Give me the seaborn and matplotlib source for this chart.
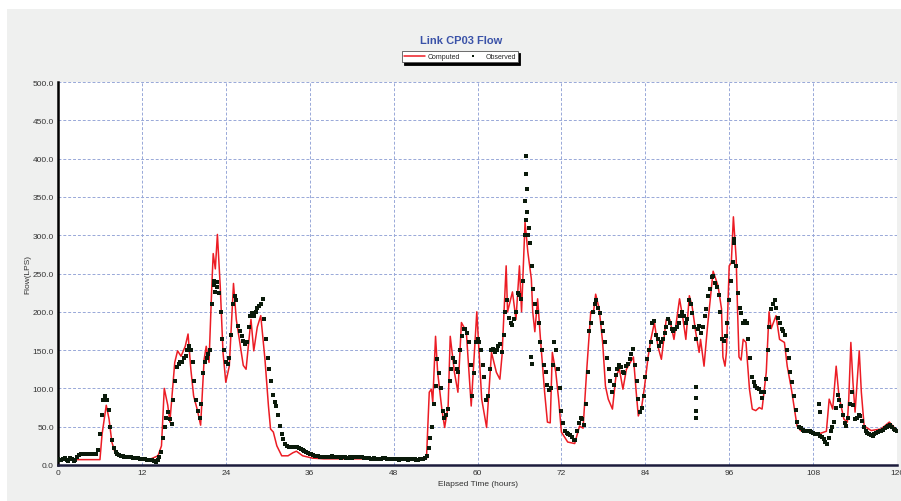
import numpy as np
import pandas as pd
import matplotlib
matplotlib.use("Agg")
import matplotlib.pyplot as plt
import seaborn as sns

# ---------------- data ----------------
# Computed flow: breakpoints (hours, LPS)
comp_t = [0, 6.0, 6.3, 6.9, 7.3, 7.7, 8.2, 9, 10, 12, 13.3, 14.3, 14.8, 15.2, 15.7, 16.0,
          16.3, 16.7, 17.1, 17.6, 18.2, 18.6, 19.0, 19.4, 19.9, 20.4, 20.9, 21.2, 21.6,
          22.0, 22.2, 22.5, 22.8, 23.2, 23.6, 24.0, 24.5, 25.1, 25.5, 26.0, 26.5, 26.9,
          27.6, 28.0, 28.5, 29.0, 29.6, 30.1, 30.4, 30.8, 31.3, 32.0, 32.9, 33.6, 34.1,
          35.0, 36.4, 38, 42, 46, 50, 52.7, 53.1, 53.4, 53.6, 54.0, 54.3, 54.9, 55.3,
          55.8, 56.1, 56.7, 57.2, 57.7, 58.4, 59.1, 59.9, 60.6, 61.3, 62.0, 62.7, 63.2,
          63.5, 64.1, 64.3, 65.0, 65.5, 66.0, 66.3, 66.8, 67.2, 67.7, 67.9, 68.2, 68.6,
          69.0, 69.6, 70.0, 70.4, 70.7, 71.2, 71.6, 72.0, 72.9, 73.9, 74.6, 75.1, 75.6,
          76.2, 76.6, 76.9, 77.4, 77.9, 78.3, 78.7, 79.3, 79.8, 80.3, 80.8, 81.3, 82.1,
          82.3, 82.7, 83.0, 83.5, 83.9, 84.4, 84.8, 85.3, 85.8, 86.3, 87.0, 87.5, 88.1,
          88.9, 89.4, 89.8, 90.3, 90.7, 91.2, 91.7, 91.9, 92.4, 92.9, 93.4, 93.7, 94.4,
          94.9, 95.1, 95.4, 95.6, 96.0, 96.3, 96.6, 97.0, 97.2, 97.4, 97.7, 98.0, 98.4,
          98.9, 99.3, 99.8, 100.3, 100.7, 101.3, 101.7, 102.0, 102.7, 103.2, 103.9,
          104.3, 104.9, 105.4, 105.7, 106.2, 107.7, 108.6, 109.9, 110.3, 110.8, 111.3,
          111.7, 112.4, 112.9, 113.1, 113.4, 113.7, 114.0, 114.6, 114.9, 115.3, 116.3,
          117.7, 118.9, 120]
comp_v = [7, 7, 40, 78, 60, 30, 15, 11, 10, 8, 8, 12, 25, 100, 78, 56,
          90, 134, 149, 142, 155, 171, 125, 90, 73, 52, 138, 155, 134,
          234, 276, 256, 301, 234, 147, 108, 129, 237, 190, 160, 130, 125,
          190, 149, 180, 195, 138, 77, 47, 43, 25, 12, 12, 16, 18,
          12, 9, 8, 8, 8, 7, 8, 95, 99, 82, 168, 121, 73, 49,
          77, 168, 121, 95, 186, 174, 77, 200, 86, 49, 147, 121, 112,
          142, 260, 200, 226, 190, 260, 200, 317, 278, 243, 200, 174, 217,
          165, 95, 56, 55, 147, 121, 86, 43, 30, 28, 51, 48, 121,
          200, 200, 223, 204, 160, 103, 86, 73, 116, 125, 99, 125, 138,
          141, 95, 64, 77, 103, 141, 164, 186, 155, 138, 190, 190, 164,
          217, 190, 164, 221, 207, 174, 147, 164, 129, 181, 226, 253, 234,
          204, 141, 129, 147, 260, 264, 324, 269, 200, 141, 137, 164, 160,
          99, 73, 71, 75, 73, 121, 200, 178, 195, 164, 160,
          129, 99, 69, 51, 45, 44, 40, 44, 86, 73, 129,
          90, 60, 56, 86, 160, 108, 69, 149, 95, 51, 45,
          47, 56, 45]

# Observed flow: readings on the full/half hours (0 .. 120 h)
obs_t = [i * 0.5 for i in range(241)]
obs_v = [8, 6, 9, 5, 8, 6, 13, 14, 14, 14, 14, 14, 40, 85, 85, 50, 22, 15, 12, 11,   # 0-9.5
         10, 10, 9, 9, 8, 8, 7, 6, 4, 10, 35, 62, 60, 85, 128, 135, 140, 150, 150, 110,  # 10-19.5
         70, 80, 135, 145, 210, 226, 225, 165, 134, 140, 210, 215, 175, 162, 160, 195,  # 20-27.5
         195, 205, 210, 190, 140, 110, 82, 65, 40, 28, 24, 23, 23, 22, 19, 17,          # 28-35.5
         15, 13, 12, 11, 11, 10, 11, 10, 11, 9, 10, 9, 9, 10, 11, 10,                    # 36-43.5
         9, 9, 8, 8, 8, 9, 8, 8, 8, 8, 8, 8, 7, 8, 8, 7,                                 # 44-51.5
         8, 9, 22, 50, 103, 120, 70, 65, 110, 140, 125, 150, 178, 172, 130, 120,         # 52-59.5
         165, 150, 115, 90, 150, 148, 155, 148, 200, 192, 183, 200, 222, 240, 320, 290,  # 60-67.5
         230, 200, 160, 130, 105, 100, 160, 125, 70, 45, 40, 37, 32, 55, 60, 80,         # 68-75.5
         175, 200, 215, 198, 175, 140, 110, 105, 125, 128, 120, 132, 145, 130, 86, 75,   # 76-83.5
         115, 150, 185, 170, 155, 165, 180, 185, 175, 180, 195, 195, 190, 210, 180, 178, # 84-91.5
         172, 195, 220, 245, 238, 222, 165, 168, 215, 265, 260, 205, 186, 185, 140, 108, # 92-99.5
         100, 95, 95, 150, 204, 215, 192, 178, 170, 140, 108, 72, 50, 46, 45, 44,        # 100-107.5
         42, 41, 38, 34, 28, 45, 56, 92, 77, 55, 62, 95, 60, 65, 58, 44,                 # 108-115.5
         40, 38, 42, 44, 46, 50, 52, 47, 45]                                             # 116-120

# Observed flow: readings at the quarter hours in between (0.25, 0.75, ... 119.75 h)
obs_mid_t = [0.25 + i * 0.5 for i in range(240)]
obs_mid_v = [7, 8, 6, 9, 5, 10, 14, 14, 14, 14, 14, 20, 65, 90, 72, 33, 17, 13, 12, 10,        # 0.25-9.75
             10, 9, 9, 8, 8, 7, 7, 5, 6, 17, 50, 69, 54, 110, 132, 134, 142, 155, 135, 85,   # 10.25-19.75
             62, 120, 140, 150, 235, 239, 200, 150, 132, 170, 221, 181, 168, 158, 180, 198,  # 20.25-27.75
             200, 208, 217, 165, 125, 92, 77, 51, 34, 25, 23, 24, 23, 21, 18, 16,            # 28.25-35.75
             14, 12, 12, 11, 10, 11, 12, 10, 10, 10, 9, 10, 10, 11, 10, 9,                   # 36.25-43.75
             9, 8, 9, 8, 8, 9, 8, 8, 8, 7, 8, 8, 8, 8, 7, 8,                                 # 44.25-51.75
             8, 12, 35, 80, 138, 100, 62, 73, 125, 135, 121, 168, 178, 160, 90, 160,         # 52.25-59.75
             160, 130, 85, 125, 152, 150, 158, 170, 215, 185, 190, 225, 217, 300, 300, 260,  # 60.25-67.75
             210, 185, 150, 121, 98, 130, 150, 100, 55, 42, 39, 33, 45, 62, 52, 121,         # 68.25-75.75
             185, 210, 205, 185, 160, 125, 95, 118, 130, 122, 129, 138, 151, 110, 69, 90,    # 76.25-83.75
             138, 160, 188, 165, 160, 172, 190, 178, 178, 185, 200, 186, 215, 198, 165, 181, # 84.25-91.75
             180, 204, 230, 247, 232, 200, 162, 185, 240, 290, 225, 198, 188, 165, 115, 103, # 92.25-99.75
             99, 88, 112, 180, 210, 205, 185, 175, 150, 122, 90, 56, 48, 45, 44, 43,         # 100.25-107.75
             41, 40, 36, 30, 35, 50, 75, 85, 65, 51, 80, 78, 62, 64, 50, 42,                 # 108.25-115.75
             39, 40, 43, 45, 48, 51, 50, 46]                                                 # 116.25-119.75

# Observed readings off the quarter-hour grid (spikes and isolated values)
extra_t = [66.85, 66.9, 66.95, 67.05, 67.15, 67.3, 67.7, 67.75,
           91.3, 91.3, 91.3, 91.3, 108.9, 109.0, 22.3, 22.7, 96.7]
extra_v = [345, 380, 403, 360, 330, 310, 141, 132,
           102, 87, 70, 61, 80, 69, 240, 232, 295]

x_ticks = [0, 12, 24, 36, 48, 60, 72, 84, 96, 108, 120]
y_ticks = [0, 50, 100, 150, 200, 250, 300, 350, 400, 450, 500]

# ---------------- figure ----------------
sns.set_style("white")
plt.rcParams["font.family"] = ["Liberation Sans", "DejaVu Sans"]

W, H = 901, 502
fig = plt.figure(figsize=(W / 100, H / 100), dpi=100)
fig.patch.set_facecolor("#eff0ef")
# white border strips (top/left) like the reference
fig.add_artist(plt.Rectangle((0, 1 - 10 / H), 1, 10 / H, transform=fig.transFigure,
                             facecolor="white", edgecolor="none", zorder=0))
fig.add_artist(plt.Rectangle((0, 0), 7 / W, 1, transform=fig.transFigure,
                             facecolor="white", edgecolor="none", zorder=0))

L, R, T, B = 58, 897, 83, 466
ax = fig.add_axes([L / W, 1 - B / H, (R - L) / W, (B - T) / H])
ax.set_facecolor("white")

comp_df = pd.DataFrame({"t": comp_t, "v": comp_v})
obs_df = pd.DataFrame({"t": obs_t + obs_mid_t + extra_t,
                       "v": obs_v + obs_mid_v + extra_v})

sns.lineplot(data=comp_df, x="t", y="v", ax=ax, color="#ec1c24", linewidth=1.1,
             label="Computed", zorder=3, sort=False)
sns.scatterplot(data=obs_df, x="t", y="v", ax=ax, color="#0a1a0a", marker="s", s=9,
                linewidth=0, label="Observed", zorder=4)

ax.set_xlim(0, 120)
ax.set_ylim(0, 500)
ax.set_xticks(x_ticks)
ax.set_yticks(y_ticks)
ax.set_yticklabels([f"{v:.1f}" for v in y_ticks])
ax.tick_params(axis="both", length=0, labelsize=6, colors="#333333", pad=3)

ax.grid(True, color="#98a8d8", linewidth=0.7, linestyle=(0, (3, 2)))
ax.set_axisbelow(True)
for s in ["top", "right"]:
    ax.spines[s].set_visible(False)
ax.spines["left"].set_color("black")
ax.spines["left"].set_linewidth(1.8)
ax.spines["bottom"].set_color("#1c1c3c")
ax.spines["bottom"].set_linewidth(1.8)

ax.set_xlabel("Elapsed Time (hours)", fontsize=6, color="#333333", labelpad=3)
ax.set_ylabel("Flow(LPS)", fontsize=6, color="#333333", labelpad=1)

fig.text(461 / W, 1 - 41.5 / H, "Link CP03 Flow", ha="center", va="center",
         fontsize=8, fontweight="bold", color="#3a52a8")

leg = ax.legend(loc="center", bbox_to_anchor=(460 / W, 1 - 57.5 / H),
                bbox_transform=fig.transFigure, ncol=2, fontsize=5,
                frameon=True, fancybox=False, shadow={"color": "black", "alpha": 1,
                                                      "ox": 1.5, "oy": -1.5},
                edgecolor="#555555", framealpha=1, borderpad=0.35,
                handlelength=3.0, handletextpad=0.3, columnspacing=0.4,
                markerscale=0.6, borderaxespad=0)
leg.get_frame().set_linewidth(0.6)

fig.savefig("out.png", dpi=100, facecolor=fig.get_facecolor())
